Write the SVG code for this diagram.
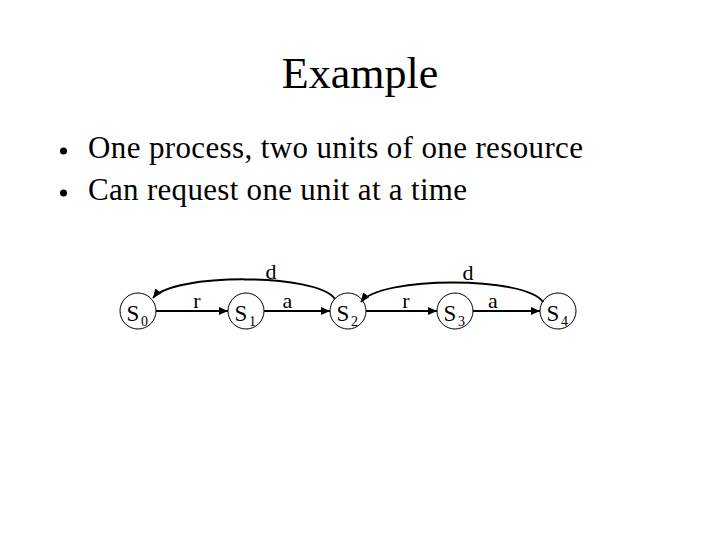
<svg xmlns="http://www.w3.org/2000/svg" width="720" height="540" viewBox="0 0 720 540">
<style>
text{font-family:"Liberation Serif","Times New Roman",serif;fill:#000}
.title{font-size:44px}
.bul{font-size:31px}
.st{font-size:23px}
.sub{font-size:14px}
.lbl{font-size:22px}
.node circle{fill:none;stroke:#000;stroke-width:1}
.edge{fill:none;stroke:#000;stroke-width:2;marker-end:url(#ah)}
</style>
<defs>
<marker id="ah" markerUnits="userSpaceOnUse" markerWidth="10" markerHeight="10" refX="9" refY="4" orient="auto">
<path d="M0,0 L9,4 L0,8 Z" fill="#000"/>
</marker>
</defs>
<rect width="720" height="540" fill="#fff"/>
<text class="title" x="360" y="88" text-anchor="middle">Example</text>
<g id="bullets">
<circle cx="63.5" cy="151" r="3.5" fill="#000"/>
<text class="bul" x="88" y="158" textLength="495" lengthAdjust="spacing">One process, two units of one resource</text>
<circle cx="63.5" cy="193" r="3.5" fill="#000"/>
<text class="bul" x="88" y="200" textLength="379" lengthAdjust="spacing">Can request one unit at a time</text>
</g>
<g id="connectors">
<path class="edge" d="M156,311 L228,311"/>
<path class="edge" d="M264,311 L330,311"/>
<path class="edge" d="M366,311 L437,311"/>
<path class="edge" d="M473,311 L540,311"/>
<path class="edge" d="M335,299 C318,273 172,273 153,298"/>
<path class="edge" d="M543,302 C526,276 380,276 361,302"/>
<text class="lbl" x="197" y="308" text-anchor="middle">r</text>
<text class="lbl" x="287.5" y="308" text-anchor="middle">a</text>
<text class="lbl" x="271" y="279" text-anchor="middle">d</text>
<text class="lbl" x="406" y="308" text-anchor="middle">r</text>
<text class="lbl" x="493" y="308" text-anchor="middle">a</text>
<text class="lbl" x="468" y="280" text-anchor="middle">d</text>
</g>
<g id="S0" class="node"><circle cx="138" cy="311" r="18"/><text class="st" x="126.5" y="321">S</text><text class="sub" x="141" y="326">0</text></g>
<g id="S1" class="node"><circle cx="246" cy="311" r="18"/><text class="st" x="234.5" y="321">S</text><text class="sub" x="249" y="326">1</text></g>
<g id="S2" class="node"><circle cx="348" cy="311" r="18"/><text class="st" x="336.5" y="321">S</text><text class="sub" x="351" y="326">2</text></g>
<g id="S3" class="node"><circle cx="455" cy="311" r="18"/><text class="st" x="443.5" y="321">S</text><text class="sub" x="458" y="326">3</text></g>
<g id="S4" class="node"><circle cx="558" cy="311" r="18"/><text class="st" x="546.5" y="321">S</text><text class="sub" x="561" y="326">4</text></g>
</svg>
